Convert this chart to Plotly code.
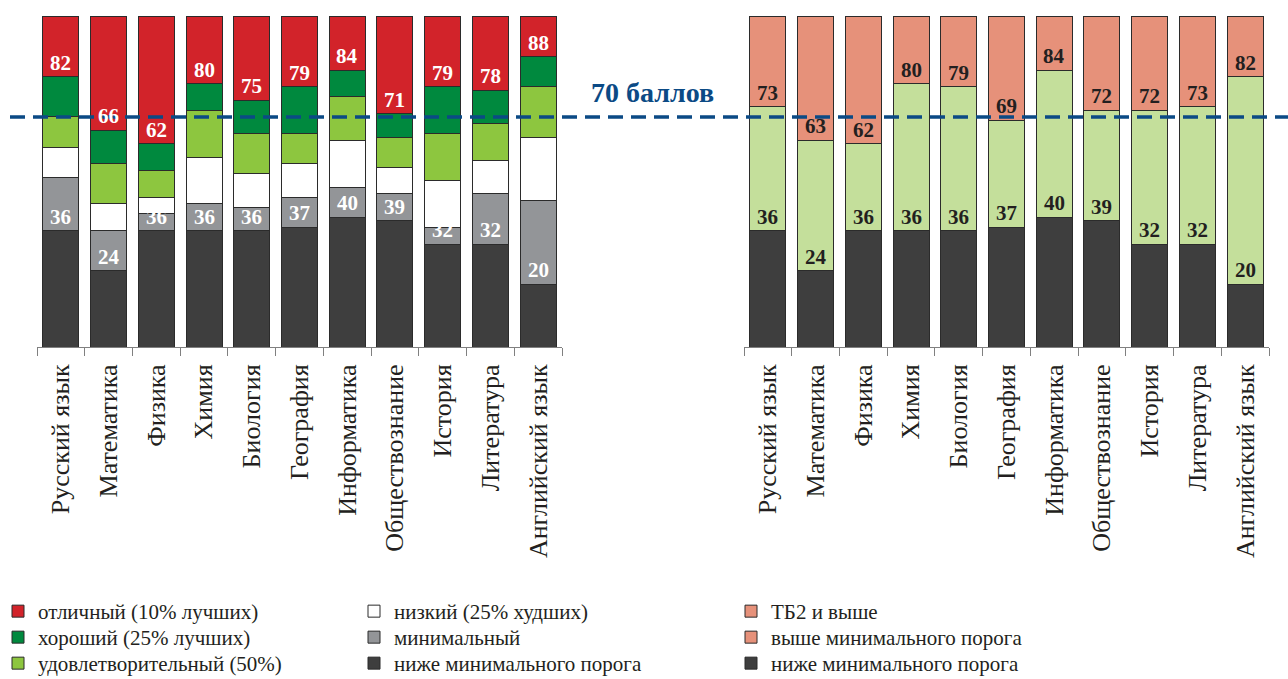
import numpy as np
import plotly.graph_objects as go

# ---------------- data ----------------
subjects = ["Русский язык", "Математика", "Физика", "Химия", "Биология", "География",
            "Информатика", "Обществознание", "История", "Литература", "Английский язык"]
min_threshold   = [36, 24, 36, 36, 36, 37, 40, 39, 32, 32, 20]   # top of "ниже минимального порога"
low_start       = [52, 36, 41, 44, 43, 46, 49, 47, 37, 47, 45]   # top of "минимальный"
satisf_start    = [61, 44, 46, 58, 53, 56, 63, 55, 51, 57, 64]   # top of "низкий"
good_start      = [70, 56, 54, 72, 65, 65, 76, 64, 65, 68, 79]   # top of "удовлетворительный"
excellent_start = [82, 66, 62, 80, 75, 79, 84, 71, 79, 78, 88]   # bottom of "отличный"
tb2_threshold   = [73, 63, 62, 80, 79, 69, 84, 72, 72, 73, 82]   # bottom of "ТБ2 и выше"
max_score = 100
pass_mark = 70

# ---------------- styles ----------------
FONT = "Liberation Serif"
TXT = "#231f20"
RED, DGREEN, LGREEN, WHITE, GRAY, DARK = "#d2232a", "#00893e", "#8dc63f", "#ffffff", "#939598", "#3e3e3e"
SALMON, PALE = "#e6917a", "#c4df9b"
BLUE = "#0b4a85"
OUT = dict(color="#2b2b2b", width=1)

W, H = 1288, 679
PLOT_TOP, PLOT_BOTTOM = 15, 347
PLOT_H = PLOT_BOTTOM - PLOT_TOP

mn = np.array(min_threshold)
lo = np.array(low_start)
sa = np.array(satisf_start)
gd = np.array(good_start)
ex = np.array(excellent_start)
tb = np.array(tb2_threshold)

fig = go.Figure()

# each legend entry sits in its own one-item legend: (column, row)
legend_cols_px = [-2, 354, 731]
legend_rows_px = [611, 637, 663]
legend_defs = {}
def legend_id(col, row):
    idx = col * 3 + row + 1
    name = "legend" if idx == 1 else f"legend{idx}"
    legend_defs[name] = (col, row)
    return name

left = [
    ("ниже минимального порога", mn, DARK, (1, 2)),
    ("минимальный", lo - mn, GRAY, (1, 1)),
    ("низкий (25% худших)", sa - lo, WHITE, (1, 0)),
    ("удовлетворительный (50%)", gd - sa, LGREEN, (0, 2)),
    ("хороший (25% лучших)", ex - gd, DGREEN, (0, 1)),
    ("отличный (10% лучших)", max_score - ex, RED, (0, 0)),
]
for name, vals, col, pos in left:
    fig.add_trace(go.Bar(x=subjects, y=vals, name=name, marker=dict(color=col, line=OUT),
                         legend=legend_id(*pos), xaxis="x", yaxis="y", hoverinfo="skip"))

right = [
    ("ниже минимального порога", mn, DARK, (2, 2)),
    ("выше минимального порога", tb - mn, PALE, None),
    ("ТБ2 и выше", max_score - tb, SALMON, (2, 0)),
]
for name, vals, col, pos in right:
    kw = dict(legend=legend_id(*pos)) if pos else dict(showlegend=False)
    fig.add_trace(go.Bar(x=subjects, y=vals, name=name, marker=dict(color=col, line=OUT),
                         xaxis="x2", yaxis="y2", hoverinfo="skip", **kw))
# legend entry as drawn in the original (salmon swatch)
fig.add_trace(go.Bar(x=[None], y=[None], name="выше минимального порога",
                     marker=dict(color=SALMON, line=OUT), legend=legend_id(2, 1),
                     xaxis="x2", yaxis="y2"))

# ---------------- value labels ----------------
ann = []
def lab(x, y, ax, color):
    ann.append(dict(x=x, y=y, xref=ax[0], yref=ax[1], text=f"<b>{y}</b>", showarrow=False,
                    yanchor="bottom", xanchor="center",
                    font=dict(family=FONT, size=21, color=color)))
for s, a, b in zip(subjects, excellent_start, min_threshold):
    lab(s, a, ("x", "y"), "white")
    lab(s, b, ("x", "y"), "white")
for s, a, b in zip(subjects, tb2_threshold, min_threshold):
    lab(s, a, ("x2", "y2"), TXT)
    lab(s, b, ("x2", "y2"), TXT)

ann.append(dict(x=589 / W, y=pass_mark, xref="paper", yref="y", xanchor="left", yanchor="bottom",
                yshift=7, showarrow=False, text=f"<b>{pass_mark} баллов</b>",
                font=dict(family=FONT, size=28, color=BLUE)))

fig.add_shape(type="line", xref="paper", yref="y", x0=10 / W, x1=1, y0=pass_mark, y1=pass_mark,
              line=dict(color=BLUE, width=3.5, dash="15px,8px"), layer="above")

xax = dict(type="category", tickson="boundaries", ticks="outside", ticklen=8, tickcolor="#808080",
           showline=True, linecolor="#808080", linewidth=1, tickangle=-90, showgrid=False,
           ticklabelstandoff=6, tickfont=dict(family=FONT, size=26, color=TXT), fixedrange=True)
yax = dict(range=[1.2, 100.5], visible=False, showgrid=False, zeroline=False, fixedrange=True)

LEG_FONT = 21
legends = {}
for name, (c, r) in legend_defs.items():
    top_px = legend_rows_px[r] - 20
    legends[name] = dict(orientation="v", yanchor="top", y=(PLOT_BOTTOM - top_px) / PLOT_H,
                         xanchor="left", x=legend_cols_px[c] / W, bgcolor="rgba(0,0,0,0)",
                         font=dict(family=FONT, size=LEG_FONT, color=TXT))

fig.update_layout(
    width=W, height=H,
    barmode="stack", bargap=0.245,
    paper_bgcolor="white", plot_bgcolor="white",
    margin=dict(l=0, r=0, t=PLOT_TOP, b=H - PLOT_BOTTOM, autoexpand=False),
    xaxis=dict(domain=[37 / W, 562 / W], anchor="y", **xax),
    yaxis=dict(anchor="x", **yax),
    xaxis2=dict(domain=[744 / W, 1269 / W], anchor="y2", **xax),
    yaxis2=dict(anchor="x2", **yax),
    annotations=ann,
    showlegend=True,
    font=dict(family=FONT, color=TXT),
    **legends,
)

fig.write_html("out.html")
